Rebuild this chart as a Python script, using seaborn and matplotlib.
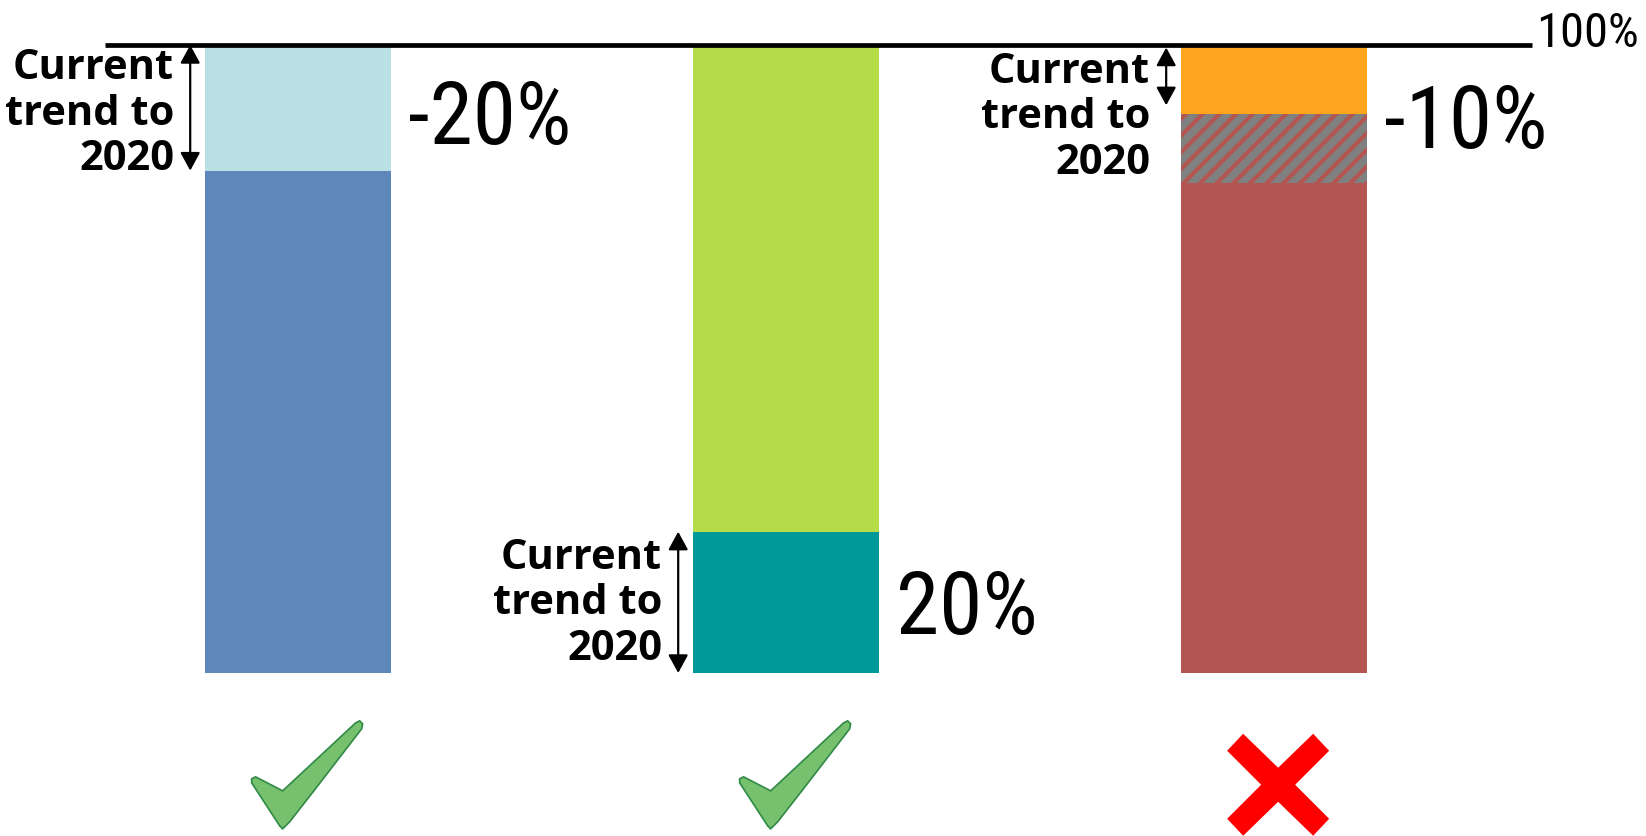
import matplotlib

matplotlib.use("Agg")
import matplotlib.pyplot as plt
import numpy as np
import pandas as pd
import seaborn as sns
from matplotlib import font_manager
from matplotlib.patches import Polygon


# Chart data
# ----------
# Three stacked bars, shares in percent of the 100% line, bottom to top.
categories = ["Bar A", "Bar B", "Bar C"]
base_values = [80, 22.5, 78]
middle_values = [20, 77.5, 11]
top_values = [0, 0, 11]

base_colors = ["#5F88BA", "#009999", "#B35551"]
middle_colors = ["#BBE0E3", "#B5DB48", "#808080"]
top_colors = ["#BBE0E3", "#B5DB48", "#FFA41D"]
middle_hatched = [False, False, True]

change_labels = ["-20%", "20%", "-10%"]
trend_text = "Current\ntrend to\n2020"
trend_low = [80, 0, 90.4]
trend_high = [100, 22.5, 99.6]
label_mid = [89, 11, 88.4]
passed = [True, True, False]
reference_label = "100%"
reference_level = 100


# Layout (figure is 1646 x 836 px, axes fill the whole figure)
# -------------------------------------------------------------
FIG_W, FIG_H = 1646, 836
XLIM = (-0.611, 2.762)
YLIM = (-25.96, 107.17)
BAR_WIDTH = 0.381
PX_X = (XLIM[1] - XLIM[0]) / FIG_W
PX_Y = (YLIM[1] - YLIM[0]) / FIG_H

# narrow face for the big numbers, first one that is installed
names = {f.name for f in font_manager.fontManager.ttflist}
NUM_FONT = next(
    (n for n in ["Roboto Condensed", "IBM Plex Sans Condensed", "Liberation Sans"] if n in names),
    "DejaVu Sans",
)
LABEL_FONT = "Open Sans" if "Open Sans" in names else "DejaVu Sans"

sns.set_style("white")
plt.rcParams["hatch.linewidth"] = 3.0
plt.rcParams["text.color"] = "black"

fig = plt.figure(figsize=(FIG_W / 100, FIG_H / 100), dpi=100)
ax = fig.add_axes([0, 0, 1, 1])

# stacked bars: draw cumulative totals from the top layer down
cum_base = np.array(base_values, dtype=float)
cum_mid = cum_base + np.array(middle_values)
cum_top = cum_mid + np.array(top_values)

for vals, cols, hatched in [
    (cum_top, top_colors, [False] * 3),
    (cum_mid, middle_colors, middle_hatched),
    (cum_base, base_colors, [False] * 3),
]:
    df = pd.DataFrame({"category": categories, "share": vals})
    n_before = len(ax.patches)
    sns.barplot(
        data=df, x="category", y="share", hue="category",
        order=categories, hue_order=categories, palette=cols,
        legend=False, width=BAR_WIDTH, saturation=1, linewidth=0, ax=ax,
    )
    for patch in ax.patches[n_before:]:
        idx = int(round(patch.get_x() + patch.get_width() / 2))
        if hatched[idx]:
            patch.set_hatch("//")
            patch.set_edgecolor("#B35551")
            patch.set_linewidth(0)

# 100% reference line
ax.plot([-0.395, 2.529], [reference_level, reference_level],
        color="black", lw=3.4, solid_capstyle="butt", zorder=5)
ax.text(2.537, reference_level - 0.35, reference_label, fontsize=35,
        family=NUM_FONT, weight="normal", color="black", ha="left", va="baseline")

# check mark and cross shapes, pixel offsets from their centre (y down)
check_shape = [(-55.5, 3.5), (-51.5, 1.5), (-24.5, 15.5), (48.5, -52.5),
               (52.5, -54.5), (55.5, -51.5), (54.5, -46.5), (7.5, 14.5),
               (-17.5, 46.5), (-24.5, 53.5), (-27.5, 50.5), (-55.5, 7.5)]
cross_shape = [(-51, -34), (-35, -51), (0, -17), (35, -51), (51, -34), (17, 0),
               (51, 34), (35, 51), (0, 17), (-35, 51), (-51, 34), (-17, 0)]


def place(shape, cx, cy):
    return [(cx + dx * PX_X, cy - dy * PX_Y) for dx, dy in shape]


for i, cat in enumerate(categories):
    left = i - BAR_WIDTH / 2
    right = i + BAR_WIDTH / 2

    # bracket arrow for the current trend
    ax.annotate(
        "", xy=(left - 15 * PX_X, trend_low[i]), xytext=(left - 15 * PX_X, trend_high[i]),
        arrowprops=dict(arrowstyle="<|-|>,head_length=0.55,head_width=0.3",
                        color="black", lw=1.6, mutation_scale=20,
                        shrinkA=0, shrinkB=0),
    )
    ax.text(left - 31 * PX_X, label_mid[i], trend_text, fontsize=30,
            family=LABEL_FONT, weight="bold", color="black",
            ha="right", va="center", linespacing=1.14)

    # change label
    ax.text(right + 17 * PX_X, label_mid[i] - 30 * PX_Y, change_labels[i],
            fontsize=63, family=NUM_FONT, weight="normal", color="black",
            ha="left", va="baseline")

    # verdict marker below the bar
    if passed[i]:
        ax.add_patch(Polygon(place(check_shape, i + 9 * PX_X, -16.3), closed=True,
                             facecolor="#77C16E", edgecolor="#2F8A46", lw=1.2))
    else:
        ax.add_patch(Polygon(place(cross_shape, i + 4 * PX_X, -17.8), closed=True,
                             facecolor="#FF0000", edgecolor="none"))

ax.set_xlim(*XLIM)
ax.set_ylim(*YLIM)
ax.axis("off")

fig.savefig("out.png", dpi=100, facecolor="white")
